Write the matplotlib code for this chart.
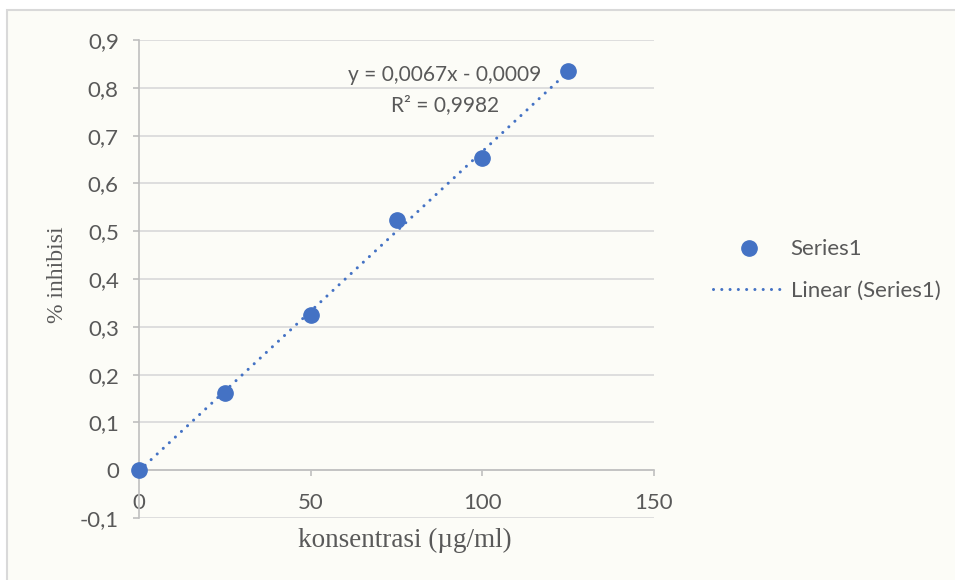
import numpy as np
import matplotlib.pyplot as plt
from matplotlib.lines import Line2D
from matplotlib.patches import Rectangle

# ---- DATA ----
konsentrasi = [0, 25, 50, 75, 100, 125]
inhibisi = [0.0, 0.162, 0.324, 0.523, 0.653, 0.835]
y_ticks = [-0.1, 0, 0.1, 0.2, 0.3, 0.4, 0.5, 0.6, 0.7, 0.8, 0.9]
x_ticks = [0, 50, 100, 150]
eq_text = "y = 0,0067x - 0,0009"
r2_text = "R² = 0,9982"

BLUE = "#4472C4"
GRID = "#d9d9d9"
TXT = "#595959"
BG = "#fcfcf7"
FS = 16
DOTS = (0, (0.01, 2.7))

W, H = 955, 580
fig = plt.figure(figsize=(W / 100, H / 100), dpi=100, facecolor="white")

# chart area background + border (Excel style), behind the axes
fig.patches.append(Rectangle((7 / W, -0.1), 1.2, 1 - 10 / H + 0.1, transform=fig.transFigure,
                             facecolor=BG, edgecolor=GRID, linewidth=1.5, zorder=-5))

ax = fig.add_axes([139 / W, (H - 518) / H, (654 - 139) / W, (518 - 40) / H])
ax.set_facecolor("none")

# ---- TRENDLINE ----
slope, intercept = np.polyfit(konsentrasi, inhibisi, 1)
xt = np.array([konsentrasi[0], konsentrasi[-1]])
ax.plot(xt, slope * xt + intercept, linestyle=DOTS, color=BLUE,
        linewidth=2.2, dash_capstyle="round", zorder=3)

# ---- POINTS ----
ax.plot(konsentrasi, inhibisi, "o", color=BLUE, markersize=11, zorder=4, clip_on=False)

ax.set_xlim(0, 150)
ax.set_ylim(-0.1, 0.9)
ax.set_xticks(x_ticks)
ax.set_yticks(y_ticks)
ax.set_yticklabels([f"{v:.1f}".replace(".", ",") if v != 0 else "0" for v in y_ticks])
ax.set_xticklabels([str(v) for v in x_ticks])

ax.grid(axis="y", color=GRID, linewidth=1.2, zorder=0)
ax.grid(axis="x", visible=False)
for s in ["top", "right"]:
    ax.spines[s].set_visible(False)
ax.spines["bottom"].set_position(("data", 0))
for s in ["bottom", "left"]:
    ax.spines[s].set_color("#bfbfbf")
    ax.spines[s].set_linewidth(1.2)

ax.tick_params(axis="y", direction="out", length=4.5, width=1.2, color="#bfbfbf",
               pad=10, labelsize=FS, labelcolor=TXT)
ax.tick_params(axis="x", direction="out", length=4.5, width=1.2, color="#bfbfbf",
               pad=12, labelsize=FS, labelcolor=TXT)
for lbl in ax.get_xticklabels() + ax.get_yticklabels():
    lbl.set_family("Lato")

ax.set_xlabel("konsentrasi (µg/ml)", family="Liberation Serif", fontsize=19.5, color=TXT)
ax.set_ylabel("% inhibisi", family="Liberation Serif", fontsize=17, color=TXT)
ax.xaxis.set_label_coords((405 - 139) / 515, -0.046)
ax.yaxis.set_label_coords(-0.158, 0.51)
ax.xaxis.label.set_va("center")
ax.yaxis.label.set_va("center")

# ---- EQUATION ----
ax.text((445 - 139) / 515 * 150, (470 - 75) / 478, eq_text,
        ha="center", va="center", family="Lato", fontsize=15, color=TXT)
ax.text((445 - 139) / 515 * 150, (470 - 105) / 478, r2_text,
        ha="center", va="center", family="Lato", fontsize=15, color=TXT)

# ---- LEGEND ----
handles = [
    Line2D([], [], marker="o", linestyle="none", color=BLUE, markersize=11),
    Line2D([], [], linestyle=DOTS, color=BLUE, linewidth=2.2, dash_capstyle="round"),
]
leg = fig.legend(handles, ["Series1", "Linear (Series1)"], loc="center left",
                 bbox_to_anchor=(693 / W, 1 - 270 / H), frameon=False,
                 prop={"family": "Lato", "size": FS}, labelcolor=TXT,
                 handlelength=3.2, handletextpad=0.3, labelspacing=0.95, numpoints=1)

fig.savefig("out.png", dpi=100, facecolor=fig.get_facecolor())
